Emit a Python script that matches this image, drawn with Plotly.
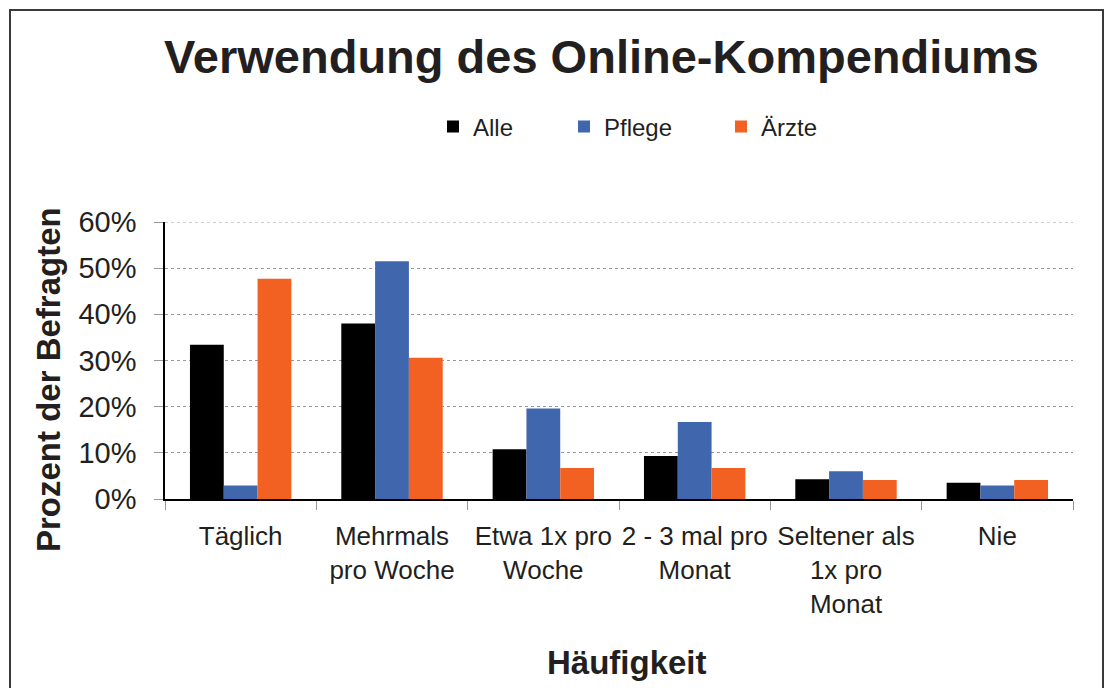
import plotly.graph_objects as go

categories = ["Täglich", "Mehrmals<br>pro Woche", "Etwa 1x pro<br>Woche", "2 - 3 mal pro<br>Monat",
              "Seltener als<br>1x pro<br>Monat", "Nie"]
alle = [0.334, 0.380, 0.108, 0.093, 0.043, 0.035]
pflege = [0.029, 0.515, 0.196, 0.167, 0.060, 0.029]
aerzte = [0.477, 0.306, 0.067, 0.067, 0.041, 0.041]
series_names = ["Alle", "Pflege", "Ärzte"]
colors = ["#000000", "#4066AE", "#F26122"]
y_ticks = [0, 0.1, 0.2, 0.3, 0.4, 0.5, 0.6]
y_tick_labels = ["0%", "10%", "20%", "30%", "40%", "50%", "60%"]

FONT = "Liberation Sans, Arial, sans-serif"
TXT = "#231f20"

# plot area geometry (px)
L, R, T, B = 165, 1073, 222, 499
W, H = 1109, 688
PW, PH = R - L, B - T

def px_x(x):
    return (x - L) / PW

def px_y(y):
    return (B - y) / PH

fig = go.Figure()
legend_ids = ["legend", "legend2", "legend3"]
for name, vals, col, lid in zip(series_names, [alle, pflege, aerzte], colors, legend_ids):
    fig.add_trace(go.Bar(x=categories, y=vals, name=name, marker_color=col,
                         marker_line_width=0, legend=lid))

legend_px = [433, 564, 721]
leg_common = dict(orientation="h", yanchor="middle", xanchor="left",
                  font=dict(family=FONT, size=24, color=TXT), bgcolor="rgba(0,0,0,0)")
fig.update_layout(
    legend=dict(x=px_x(legend_px[0]), y=px_y(127), **leg_common),
    legend2=dict(x=px_x(legend_px[1]), y=px_y(127), **leg_common),
    legend3=dict(x=px_x(legend_px[2]), y=px_y(127), **leg_common),
)

fig.update_layout(
    width=W, height=H,
    margin=dict(l=L, r=W - R, t=T, b=H - B, pad=0),
    paper_bgcolor="white", plot_bgcolor="white",
    barmode="group", bargap=0.33, bargroupgap=0,
    title=dict(text="<b>Verwendung des Online-Kompendiums</b>",
               x=601.5 / W, xanchor="center", y=1 - 57 / H, yanchor="middle",
               xref="container", yref="container",
               font=dict(family=FONT, size=47, color=TXT)),
    showlegend=True,
    font=dict(family=FONT, color=TXT),
)

fig.update_xaxes(
    type="category", tickson="boundaries", ticks="outside", ticklen=9, tickcolor="#999999",
    tickwidth=1, showline=True, linecolor="#000000", linewidth=1.5,
    tickfont=dict(family=FONT, size=26, color=TXT), showgrid=False,
    tickangle=0, ticklabelstandoff=13,
)
fig.update_yaxes(
    range=[0, 0.6], tickvals=y_ticks, ticktext=y_tick_labels,
    ticks="outside", ticklen=9, tickcolor="#999999",
    showline=True, linecolor="#000000", linewidth=1.5,
    showgrid=True, gridcolor="#9a9a9a", griddash="dot", gridwidth=1,
    tickfont=dict(family=FONT, size=29, color=TXT), zeroline=False,
    ticklabelstandoff=12,
)

# top gridline at the range edge (plotly omits it)
fig.add_shape(type="line", xref="paper", yref="y", x0=0, x1=1, y0=y_ticks[-1], y1=y_ticks[-1],
              line=dict(color="#9a9a9a", width=1, dash="dot"), layer="below")

fig.add_annotation(text="<b>Prozent der Befragten</b>", textangle=-90,
                   x=px_x(48), y=px_y(380), xref="paper", yref="paper",
                   xanchor="center", yanchor="middle", showarrow=False,
                   font=dict(family=FONT, size=33, color=TXT))
fig.add_annotation(text="<b>Häufigkeit</b>",
                   x=px_x(627), y=px_y(662), xref="paper", yref="paper",
                   xanchor="center", yanchor="middle", showarrow=False,
                   font=dict(family=FONT, size=33, color=TXT))

fig.add_shape(type="rect", xref="paper", yref="paper",
              x0=px_x(10), x1=px_x(1103), y0=px_y(760), y1=px_y(10),
              line=dict(color="#3a3a3a", width=2), fillcolor="rgba(0,0,0,0)", layer="below")

fig.write_html("out.html", config={"displayModeBar": False},
               post_script="document.body.style.margin='0';document.body.style.overflow='hidden';")
